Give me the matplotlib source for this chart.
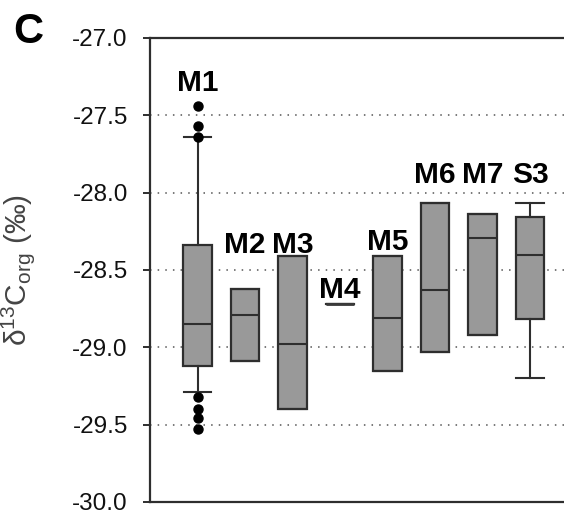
import numpy as np
import matplotlib
matplotlib.use("Agg")
import matplotlib.pyplot as plt
from matplotlib.ticker import FormatStrFormatter, MultipleLocator

plt.rcParams['font.family'] = ['Liberation Sans', 'DejaVu Sans']
plt.rcParams['mathtext.fontset'] = 'custom'
plt.rcParams['mathtext.rm'] = 'Liberation Sans'
plt.rcParams['mathtext.it'] = 'Liberation Sans:italic'
plt.rcParams['axes.unicode_minus'] = False

# ── Data (δ13C_org, ‰) ─────────────────────────────────────────────────────────
groups   = ["M1", "M2", "M3", "M4", "M5", "M6", "M7", "S3"]
whis_lo  = [-29.29, -29.09, -29.40, -28.72, -29.15, -29.03, -28.92, -29.20]
q1       = [-29.12, -29.09, -29.40, -28.72, -29.15, -29.03, -28.92, -28.82]
medians  = [-28.85, -28.79, -28.98, -28.72, -28.81, -28.63, -28.29, -28.40]
q3       = [-28.34, -28.62, -28.41, -28.72, -28.41, -28.07, -28.14, -28.16]
whis_hi  = [-27.64, -28.62, -28.41, -28.72, -28.41, -28.07, -28.14, -28.07]
outliers = [[-27.44, -27.57, -27.64, -29.32, -29.40, -29.46, -29.53],
            [], [], [], [], [], [], []]

# label baselines (annotation positions)
label_y = [-27.34, -28.39, -28.39, -28.68, -28.37, -27.94, -27.94, -27.94]

# ── Figure ─────────────────────────────────────────────────────────────────────
fig = plt.figure(figsize=(5.64, 5.16), dpi=100)
ax = fig.add_axes([150 / 564, 14 / 516, 414 / 564, 464 / 516])

EDGE = '#2e2e2e'
stats = []
for i, g in enumerate(groups):
    stats.append(dict(label=g, whislo=whis_lo[i], q1=q1[i], med=medians[i],
                      q3=q3[i], whishi=whis_hi[i], fliers=outliers[i]))

pos = np.arange(1, len(groups) + 1)
bp = ax.bxp(stats, positions=pos, widths=0.61, capwidths=0.57, patch_artist=True,
            boxprops=dict(facecolor='#999999', edgecolor=EDGE, linewidth=1.6),
            medianprops=dict(color=EDGE, linewidth=1.5),
            whiskerprops=dict(color=EDGE, linewidth=1.5),
            capprops=dict(color=EDGE, linewidth=1.5),
            flierprops=dict(marker='o', markerfacecolor='black', markeredgecolor='black',
                            markersize=6.5, linestyle='none'),
            zorder=3)

# single-value group drawn as a flat line
bp['medians'][3].set_color('#3a3a3a')
bp['medians'][3].set_linewidth(2.0)
bp['medians'][3].set_zorder(6)

for p, g, ly in zip(pos, groups, label_y):
    ax.text(p, ly, g, ha='center', va='baseline', fontsize=21.5,
            fontweight='bold', color='black', zorder=4)

ax.set_xlim(0, 414 / 47.5)
ax.set_ylim(-30.0, -27.0)
ax.yaxis.set_major_locator(MultipleLocator(0.5))
ax.yaxis.set_major_formatter(FormatStrFormatter('%.1f'))
ax.set_xticks([])

ax.yaxis.grid(True, linestyle=(0, (1, 4)), linewidth=1.1, color='#555555', zorder=0)
ax.set_axisbelow(True)

for side in ['left', 'top', 'bottom']:
    ax.spines[side].set_color(EDGE)
    ax.spines[side].set_linewidth(1.6)
ax.spines['right'].set_visible(False)

ax.tick_params(axis='y', direction='out', length=5, width=1.4, color=EDGE,
               labelsize=17.5, pad=11, labelcolor='#111111')

ax.set_ylabel(r'δ$^{13}$C$_{\rm org}$ (‰)', fontsize=21.5, color='#444444')
ax.yaxis.set_label_coords((37 - 150) / 414, 0.5)

fig.text(28 / 564, 1 - 32 / 516, 'C', ha='center', va='center',
         fontsize=30, fontweight='bold')

fig.savefig('out.png', dpi=100)
